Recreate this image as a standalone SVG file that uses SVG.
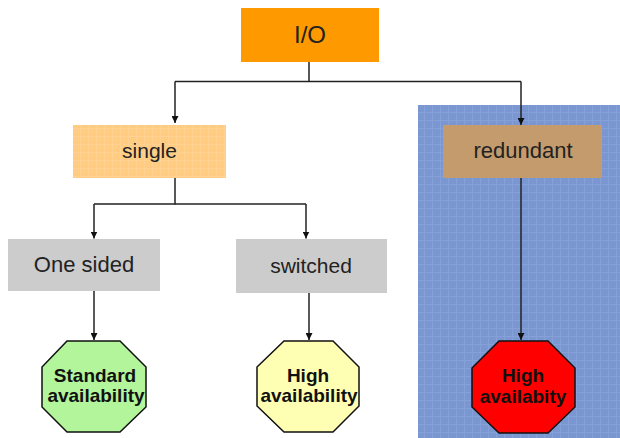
<svg xmlns="http://www.w3.org/2000/svg" width="620" height="438" viewBox="0 0 620 438">
<defs>
<pattern id="grid" width="8" height="8" patternUnits="userSpaceOnUse">
<rect width="8" height="8" fill="#7A97D1"/>
<path d="M0 0.5H8M0.5 0V8" stroke="#86A1D7" stroke-width="1" fill="none"/>
</pattern>
<pattern id="gridO" width="8" height="8" patternUnits="userSpaceOnUse">
<rect width="8" height="8" fill="#FFCC82"/>
<path d="M0 0.5H8M0.5 0V8" stroke="#FFD291" stroke-width="1" fill="none"/>
</pattern>
<marker id="arr" viewBox="0 0 10 10" refX="10" refY="5" markerWidth="7" markerHeight="7" markerUnits="userSpaceOnUse" orient="auto">
<path d="M0 0L10 5L0 10Z" fill="#111"/>
</marker>
</defs>
<style>
.lbl{font-family:"Liberation Sans",Arial,sans-serif;font-size:21px;fill:#222;text-anchor:middle}
.oct{font-family:"Liberation Sans",Arial,sans-serif;font-size:19px;font-weight:bold;fill:#111;text-anchor:middle}
.c{stroke:#222;stroke-width:1.5;fill:none}
.o{stroke:#111;stroke-width:1.5}
</style>
<rect id="panel" x="418" y="105" width="202" height="333" fill="url(#grid)"/>
<g id="connectors">
<path class="c" d="M309 62V81.5M175 81.5H521"/>
<path class="c" d="M175 81.5V123" marker-end="url(#arr)"/>
<path class="c" d="M521 81.5V125" marker-end="url(#arr)"/>
<path class="c" d="M175 178V204H94"/>
<path class="c" d="M175 204H306"/>
<path class="c" d="M94 204V238.5" marker-end="url(#arr)"/>
<path class="c" d="M306 204V238.5" marker-end="url(#arr)"/>
<path class="c" d="M94 291V340" marker-end="url(#arr)"/>
<path class="c" d="M309 293V340" marker-end="url(#arr)"/>
<path class="c" d="M521 178V340" marker-end="url(#arr)"/>
</g>
<g id="io">
<rect x="241" y="8" width="138" height="54" fill="#FF9900"/>
<text class="lbl" x="310" y="43" style="font-size:24px">I/O</text>
</g>
<g id="single">
<rect x="73" y="125" width="153" height="53" fill="url(#gridO)"/>
<text class="lbl" x="149.5" y="158">single</text>
</g>
<g id="redundant">
<rect x="443" y="125" width="159" height="53" fill="#C49B6C"/>
<text class="lbl" x="523" y="158" style="font-size:22px">redundant</text>
</g>
<g id="onesided">
<rect x="8" y="239" width="152" height="52" fill="#CCCCCC"/>
<text class="lbl" x="84" y="272" style="font-size:22px">One sided</text>
</g>
<g id="switched">
<rect x="236" y="239" width="151" height="54" fill="#CCCCCC"/>
<text class="lbl" x="311" y="273">switched</text>
</g>
<g id="standard">
<polygon class="o" points="67,341 120,341 146,367 146,407 120,432 67,432 42,407 42,367" fill="#B3F59A"/>
<text class="oct" x="95" y="382">Standard</text>
<text class="oct" x="96" y="402">availability</text>
</g>
<g id="high1">
<polygon class="o" points="284,341 333,341 359,367 359,406 333,432 284,432 257,406 257,367" fill="#FFFFB3"/>
<text class="oct" x="308" y="382">High</text>
<text class="oct" x="309" y="402">availability</text>
</g>
<g id="high2">
<polygon class="o" points="499,341 548,341 575,368 575,407 548,433 499,433 472,407 472,368" fill="#FF0000"/>
<text class="oct" x="523" y="382">High</text>
<text class="oct" x="523" y="403">availabity</text>
</g>
</svg>
